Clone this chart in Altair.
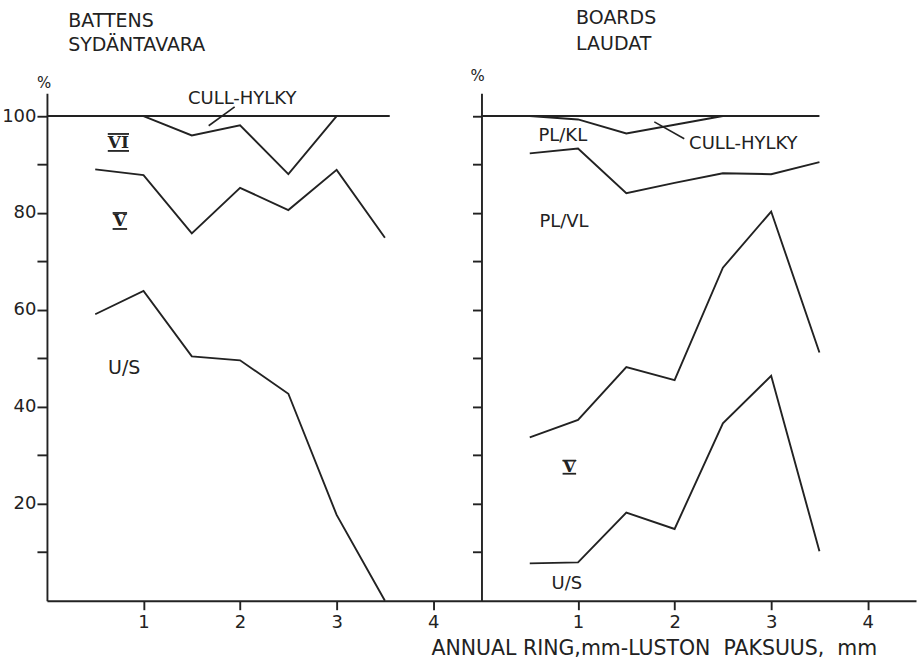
import altair as alt
import pandas as pd

INK = "#222222"
SANS = "DejaVu Sans"
SERIF = "DejaVu Serif"
NBSP = "\u00a0"

# Annual ring width classes (mm)
ring = [0.5, 1.0, 1.5, 2.0, 2.5, 3.0, 3.5]

# Battens / sydäntavara: cumulative grade boundaries (%)
batt_top_x = [0.0, 3.55]
batt_cull_x = [1.0, 1.5, 2.0, 2.5, 3.0]
batt_cull = [100.0, 96.0, 98.1, 88.0, 100.0]
batt_vi_v = [89.0, 87.8, 75.8, 85.2, 80.6, 88.9, 74.9]
batt_v_us = [59.1, 63.9, 50.4, 49.6, 42.7, 17.7, 0.0]

# Boards / laudat: cumulative grade boundaries (%)
board_top_x = [0.0, 3.5]
board_cull_x = [0.5, 1.0, 1.5, 2.0, 2.5]
board_cull = [100.0, 99.3, 96.4, 98.2, 100.0]
board_kl_vl = [92.3, 93.3, 84.1, 86.2, 88.2, 88.0, 90.5]
board_vl_v = [33.7, 37.3, 48.2, 45.5, 68.7, 80.3, 51.2]
board_v_us = [7.7, 7.9, 18.2, 14.8, 36.6, 46.4, 10.2]

x_title = f"ANNUAL RING,mm-LUSTON{NBSP}{NBSP}PAKSUUS,{NBSP}{NBSP}mm"

# Labels: (text, x, y, font size)
batt_left_labels = [("BATTENS", 0.22, 118.4, 19), ("SYDÄNTAVARA", 0.22, 113.4, 19),
                    ("CULL-HYLKY", 1.46, 102.5, 18)]
batt_center_labels = [("%", -0.03, 105.8, 15), ("U/S", 0.80, 46.8, 19)]
batt_numerals = [("VI", 0.74, 94.5), ("V", 0.755, 78.4)]
batt_bars = [(0.63, 0.85, 96.3), (0.63, 0.85, 92.8), (0.68, 0.83, 80.0), (0.68, 0.83, 76.7)]
batt_leaders = [(1.675, 98.0, 1.944, 101.9)]

board_left_labels = [("BOARDS", 0.98, 119.0, 19), ("LAUDAT", 0.98, 113.6, 19),
                     ("PL/KL", 0.59, 94.8, 18), ("CULL-HYLKY", 2.15, 93.2, 18),
                     ("PL/VL", 0.60, 77.1, 18)]
board_center_labels = [("%", -0.04, 107.2, 15), ("U/S", 0.885, 2.5, 18),
                       (x_title, 1.79, -11.3, 20.5)]
board_numerals = [("V", 0.91, 27.5)]
board_bars = [(0.84, 0.98, 28.9), (0.84, 0.98, 26.2)]
board_leaders = [(1.79, 98.8, 2.10, 95.3)]


def series_frame(parts):
    rows = []
    for name, xs, ys in parts:
        for x, y in zip(xs, ys):
            rows.append({"series": name, "x": x, "y": y})
    return pd.DataFrame(rows)


def label_frame(items):
    return pd.DataFrame([{"label": t, "x": x, "y": y, "fs": s} for t, x, y, s in items])


def panel(lines, left_labels, center_labels, numerals, bars, leaders, y_labels):
    xscale = alt.Scale(domain=[0, 4.5], nice=False, zero=False)
    yscale = alt.Scale(domain=[0, 104.7], nice=False)
    xaxis = alt.Axis(values=[1, 2, 3, 4], tickSize=9, labelPadding=4, labelFontSize=18,
                     labelFont=SANS, labelColor=INK, grid=False, title=None)
    if y_labels:
        yaxis = alt.Axis(values=list(range(10, 101, 10)), tickSize=10, labelPadding=1,
                         labelFontSize=18, labelFont=SANS, labelColor=INK, grid=False,
                         title=None,
                         labelExpr="datum.value % 20 == 0 ? datum.label : ''")
    else:
        yaxis = alt.Axis(values=list(range(10, 101, 10)), tickSize=9, labels=False,
                         grid=False, title=None)
    X = lambda f="x": alt.X(f"{f}:Q", scale=xscale, axis=xaxis, title=None)
    Y = lambda f="y": alt.Y(f"{f}:Q", scale=yscale, axis=yaxis, title=None)

    line_layer = alt.Chart(lines).mark_line(color=INK, strokeWidth=1.9).encode(
        x=X(), y=Y(), detail="series:N", order="x:Q")

    left_txt = alt.Chart(label_frame(left_labels)).mark_text(
        align="left", baseline="alphabetic", font=SANS, color=INK).encode(
        x=X(), y=Y(), text="label:N", size=alt.Size("fs:Q", scale=None, legend=None))

    center_txt = alt.Chart(label_frame(center_labels)).mark_text(
        align="center", baseline="alphabetic", font=SANS, color=INK).encode(
        x=X(), y=Y(), text="label:N", size=alt.Size("fs:Q", scale=None, legend=None))

    num_df = pd.DataFrame([{"label": t, "x": x, "y": y} for t, x, y in numerals])
    num_txt = alt.Chart(num_df).mark_text(
        align="center", baseline="middle", font=SERIF, fontSize=17, fontWeight="bold",
        color=INK).encode(x=X(), y=Y(), text="label:N")

    bar_df = pd.DataFrame([{"x": a, "x2": b, "y": y} for a, b, y in bars])
    bar_layer = alt.Chart(bar_df).mark_rule(color=INK, strokeWidth=1.8).encode(
        x=X(), x2="x2:Q", y=Y())

    lead_df = pd.DataFrame([{"x": a, "y": b, "x2": c, "y2": d} for a, b, c, d in leaders])
    lead_layer = alt.Chart(lead_df).mark_rule(color=INK, strokeWidth=1.6).encode(
        x=X(), y=Y(), x2="x2:Q", y2="y2:Q")

    return alt.layer(line_layer, lead_layer, bar_layer, left_txt, center_txt, num_txt).properties(
        width=435, height=508)


batt_lines = series_frame([
    ("top", batt_top_x, [100.0, 100.0]),
    ("cull", batt_cull_x, batt_cull),
    ("vi_v", ring, batt_vi_v),
    ("v_us", ring, batt_v_us),
])
board_lines = series_frame([
    ("top", board_top_x, [100.0, 100.0]),
    ("cull", board_cull_x, board_cull),
    ("kl_vl", ring, board_kl_vl),
    ("vl_v", ring, board_vl_v),
    ("v_us", ring, board_v_us),
])

left = panel(batt_lines, batt_left_labels, batt_center_labels, batt_numerals,
             batt_bars, batt_leaders, True)
right = panel(board_lines, board_left_labels, board_center_labels, board_numerals,
              board_bars, board_leaders, False)

chart = alt.hconcat(left, right, spacing=0, bounds="flush").properties(
    padding={"left": 1, "top": 8, "right": 5, "bottom": 0},
    background="white",
).configure_view(stroke="transparent").configure_axis(
    domainColor=INK, domainWidth=1.9, tickColor=INK, tickWidth=1.9
)

chart.save("out.html", embed_options={"renderer": "svg", "actions": False})
